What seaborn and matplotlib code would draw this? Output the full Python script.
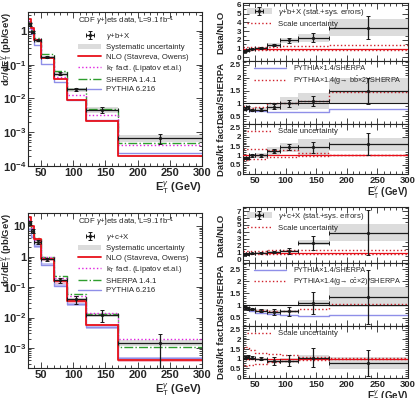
import math
import matplotlib
matplotlib.use("Agg")
import matplotlib.pyplot as plt
import seaborn as sns
from matplotlib.patches import Patch
from matplotlib.ticker import FixedLocator, FuncFormatter, MultipleLocator, LogLocator, NullFormatter

# bins in photon E_T (GeV)
edges = [30, 35, 40, 50, 70, 90, 120, 170, 300]

# ---- gamma + b + X cross sections (pb/GeV)
b_data = [1.55, 0.95, 0.52, 0.165, 0.054, 0.0185, 0.0046, 0.00066]
b_err = [0.12, 0.06, 0.03, 0.01, 0.005, 0.0016, 0.0008, 0.00022]
b_sys_lo = [1.35, 0.83, 0.45, 0.145, 0.047, 0.016, 0.0037, 0.00052]
b_sys_hi = [1.75, 1.07, 0.59, 0.185, 0.061, 0.021, 0.0055, 0.00082]
b_nlo = [2.2, 1.2, 0.52, 0.155, 0.038, 0.0088, 0.0021, 0.0002]
b_kt = [2.0, 1.1, 0.56, 0.17, 0.044, 0.013, 0.0033, 0.00042]
b_sherpa = [1.8, 1.05, 0.62, 0.21, 0.063, 0.0195, 0.0048, 0.00047]
b_pythia = [1.2, 0.8, 0.38, 0.105, 0.031, 0.009, 0.0023, 0.00024]

# ---- gamma + b ratios
rb_nlo = [0.72, 0.82, 1.0, 1.05, 1.42, 1.95, 2.25, 3.4]
rb_nlo_err = [0.08, 0.08, 0.08, 0.1, 0.15, 0.25, 0.5, 1.3]
rb_nlo_sys = [0.12, 0.1, 0.1, 0.12, 0.2, 0.3, 0.45, 1.0]
rb_scale_hi = [1.15, 1.15, 1.2, 1.2, 1.25, 1.3, 1.35, 1.4]
rb_scale_lo = [0.85, 0.85, 0.85, 0.85, 0.82, 0.8, 0.8, 0.8]

rb_sherpa = [0.8, 0.85, 0.75, 0.75, 0.88, 1.0, 1.1, 1.48]
rb_sherpa_err = [0.06, 0.06, 0.05, 0.06, 0.1, 0.12, 0.2, 0.5]
rb_sherpa_sys = [0.12, 0.1, 0.1, 0.1, 0.15, 0.25, 0.3, 0.5]
rb_pyt14 = [0.8, 0.8, 0.72, 0.7, 0.68, 0.65, 0.65, 0.78]
rb_pyt_g2 = [0.9, 0.88, 0.82, 0.85, 1.0, 1.0, 1.1, 1.45]

rb_kt = [0.85, 0.87, 1.0, 1.0, 1.25, 1.45, 1.45, 1.6]
rb_kt_err = [0.06, 0.06, 0.06, 0.08, 0.12, 0.15, 0.3, 0.6]
rb_kt_sys = [0.12, 0.1, 0.1, 0.12, 0.2, 0.25, 0.45, 0.35]
rb_kt_scale_hi = [1.35, 1.35, 1.35, 1.35, 1.3, 1.3, 1.15, 1.05]
rb_kt_scale_lo = [0.75, 0.75, 0.8, 0.8, 0.9, 0.9, 0.95, 1.0]

# ---- gamma + c + X cross sections (pb/GeV)
c_data = [13, 7.0, 3.0, 0.82, 0.17, 0.04, 0.012, 0.0015]
c_err = [2.0, 1.0, 0.5, 0.1, 0.03, 0.012, 0.005, 0.0013]
c_sys_lo = [11, 6.0, 2.6, 0.72, 0.15, 0.035, 0.0105, 0.0012]
c_sys_hi = [15, 8.0, 3.4, 0.92, 0.19, 0.045, 0.0145, 0.0018]
c_nlo = [20, 10, 3.8, 0.85, 0.16, 0.036, 0.0055, 0.0004]
c_nlo_lo = [17, 8.5, 3.2, 0.72, 0.13, 0.03, 0.0045, 0.00035]
c_kt = [16, 8.5, 3.6, 0.95, 0.2, 0.05, 0.014, 0.0019]
c_sherpa = [14, 8.0, 4.0, 1.0, 0.23, 0.06, 0.013, 0.0011]
c_pythia = [8, 4.5, 2.2, 0.55, 0.11, 0.027, 0.0048, 0.00046]
c_pyth_lo = [7, 4.0, 1.9, 0.5, 0.1, 0.024, 0.0043, 0.00042]
c_pyth_hi = [9, 5.0, 2.5, 0.62, 0.125, 0.03, 0.0053, 0.0005]

# ---- gamma + c ratios
rc_nlo = [0.8, 0.85, 0.9, 1.0, 1.05, 1.22, 2.42, 3.9]
rc_nlo_err = [0.1, 0.1, 0.1, 0.1, 0.15, 0.45, 1.05, 3.3]
rc_nlo_sys = [0.1, 0.1, 0.1, 0.1, 0.12, 0.15, 0.35, 1.2]
rc_scale_hi = [1.25, 1.25, 1.3, 1.3, 1.35, 1.4, 1.45, 1.45]
rc_scale_lo = [0.85, 0.85, 0.85, 0.85, 0.85, 0.85, 0.85, 0.85]

rc_sherpa = [0.92, 0.88, 0.85, 0.78, 0.72, 0.75, 1.1, 1.35]
rc_sherpa_err = [0.05, 0.05, 0.05, 0.06, 0.12, 0.2, 0.45, 1.1]
rc_sherpa_sys = [0.05, 0.05, 0.05, 0.06, 0.08, 0.08, 0.12, 0.4]
rc_pyt14 = [0.9, 0.85, 0.78, 0.7, 0.66, 0.62, 0.56, 0.6]
rc_pyt_g2 = [0.95, 0.9, 0.85, 0.8, 0.78, 0.75, 0.85, 1.05]

rc_kt = [1.05, 1.1, 1.05, 1.0, 0.9, 0.9, 1.05, 0.78]
rc_kt_err = [0.08, 0.08, 0.08, 0.08, 0.2, 0.28, 0.5, 0.68]
rc_kt_sys = [0.06, 0.06, 0.06, 0.06, 0.1, 0.12, 0.12, 0.3]
rc_kt_scale_hi = [1.55, 1.6, 1.45, 1.3, 1.25, 1.2, 1.1, 1.05]
rc_kt_scale_lo = [0.65, 0.6, 0.7, 0.75, 0.85, 0.9, 0.95, 1.0]

GREY = "#dcdcdc"
RED = "#e8101a"
SCALE = "#d0202a"
MAG = "#e020e0"
GREEN = "#2e9e2e"
LAV = "#8f8fe8"

centers = [(a + b) / 2 for a, b in zip(edges[:-1], edges[1:])]
halfw = [(b - a) / 2 for a, b in zip(edges[:-1], edges[1:])]

sns.set_theme(style="ticks")
plt.rcParams["font.family"] = ["Liberation Sans", "DejaVu Sans"]
plt.rcParams.update({
    "mathtext.fontset": "custom",
    "mathtext.rm": "Liberation Sans",
    "mathtext.it": "Liberation Sans:italic",
    "mathtext.bf": "Liberation Sans:bold",
    "mathtext.sf": "Liberation Sans",
    "axes.linewidth": 0.8,
})

fig = plt.figure(figsize=(4.16, 3.98), dpi=100)


def steps(ax, vals, **kw):
    y = list(vals) + [vals[-1]]
    sns.lineplot(x=edges, y=y, drawstyle="steps-post", ax=ax, errorbar=None, **kw)
    return ax.lines[-1]


def band(ax, lo, hi, color, z=1):
    ax.stairs(hi, edges, baseline=lo, fill=True, color=color, lw=0, zorder=z)


def data(ax, vals, err, lo, hi, cap=1.2):
    band(ax, lo, hi, GREY)
    return ax.errorbar(centers, vals, yerr=err, xerr=halfw, fmt="o", ms=1.3,
                       color="k", lw=0.9, capsize=cap, capthick=0.7, zorder=6)


def style(ax, xlabels=True, fs=7.5):
    ax.set_xlim(30, 300)
    ax.tick_params(which="both", direction="in", top=True, right=True,
                   width=0.6, pad=1.5, labelsize=fs)
    ax.tick_params(which="major", length=4)
    ax.tick_params(which="minor", length=2)
    ax.xaxis.set_major_locator(FixedLocator([50, 100, 150, 200, 250, 300]))
    ax.xaxis.set_minor_locator(MultipleLocator(10))
    for lab in ax.get_xticklabels() + ax.get_yticklabels():
        lab.set_fontweight("bold")
    if not xlabels:
        ax.set_xticklabels([])
    ax.grid(False)


def logfmt(v, pos):
    if abs(v - 1) < 1e-9:
        return "1"
    if abs(v - 10) < 1e-9:
        return "10"
    return r"$\mathbf{10^{%d}}$" % round(math.log10(v))


def main_panel(ax, d, e, lo, hi, nlo, kt, sh, py, ylim, ticks, name, extra=None):
    ax.set_yscale("log")
    if extra is not None:
        band(ax, extra[0], extra[1], "#f4b6c8", 2)
        band(ax, extra[2], extra[3], "#c8c8f4", 2)
    h_sys = Patch(facecolor=GREY, edgecolor="none")
    eb = data(ax, d, e, lo, hi)
    h_py = steps(ax, py, color=LAV, lw=1.0)
    h_sh = steps(ax, sh, color=GREEN, lw=1.0, linestyle="-.")
    h_kt = steps(ax, kt, color=MAG, lw=1.0, linestyle=":")
    h_nlo = steps(ax, nlo, color=RED, lw=1.3)
    ax.set_ylim(*ylim)
    style(ax, fs=8)
    ax.yaxis.set_major_locator(FixedLocator(ticks))
    ax.yaxis.set_major_formatter(FuncFormatter(logfmt))
    ax.yaxis.set_minor_locator(LogLocator(base=10, subs=range(2, 10), numticks=20))
    ax.yaxis.set_minor_formatter(NullFormatter())
    for lab in ax.get_yticklabels():
        lab.set_fontweight("bold")
    ax.set_ylabel(r"d$\sigma$/dE$_\mathrm{T}^{\gamma}$ (pb/GeV)", loc="top",
                  fontsize=6.8, fontweight="bold")
    ax.yaxis.set_label_coords(-0.072, 1.0)
    ax.set_xlabel(r"E$_\mathrm{T}^{\gamma}$ (GeV)", loc="right", fontsize=8,
                  fontweight="bold", labelpad=1)
    ax.legend([eb, h_sys, h_nlo, h_kt, h_sh, h_py],
              [name, "Systematic uncertainty", "NLO (Stavreva, Owens)",
               r"k$_\mathrm{T}$ fact. (Lipatov et.al.)", "SHERPA 1.4.1", "PYTHIA 6.216"],
              title=r"CDF $\gamma$+jets data, L=9.1 fb$^{-1}$",
              loc="upper left", bbox_to_anchor=(0.27, 1.0), frameon=False,
              fontsize=5.6, title_fontsize=5.6, handlelength=3.0,
              handletextpad=0.6, labelspacing=0.28, borderaxespad=0.2,
              borderpad=0.2, alignment="left")


def ratio_axes(ax, ylim, major, minor, ylabel, xlabels):
    ax.set_ylim(*ylim)
    ax.yaxis.set_major_locator(MultipleLocator(major))
    ax.yaxis.set_minor_locator(MultipleLocator(minor))
    ax.yaxis.set_major_formatter(FuncFormatter(lambda v, p: "%g" % v))
    style(ax, xlabels=xlabels, fs=6.8)
    for lab in ax.get_yticklabels():
        lab.set_fontsize(5.8)
    ax.set_ylabel(ylabel, fontsize=6.8, fontweight="bold")
    ax.yaxis.set_label_coords(-0.105, 0.5)


def ratio_top(ax, r, e, s, shi, slo, name, ylim):
    lo = [a - b for a, b in zip(r, s)]
    hi = [a + b for a, b in zip(r, s)]
    ax.axhline(1, color=RED, lw=0.9, zorder=3)
    eb = data(ax, r, e, lo, hi)
    h_sc = steps(ax, shi, color=SCALE, lw=1.0, linestyle=":")
    steps(ax, slo, color=SCALE, lw=1.0, linestyle=":")
    ratio_axes(ax, ylim, 1, 0.5, "Data/NLO", False)
    ax.legend([(Patch(facecolor=GREY, edgecolor="none"), eb), h_sc],
              [name + " (stat.+sys. errors)", "Scale uncertainty"],
              loc="upper left", bbox_to_anchor=(0.0, 1.0), frameon=False,
              fontsize=5.6, handlelength=3.2, handletextpad=0.8,
              labelspacing=0.35, borderaxespad=0.25, borderpad=0.25)


def ratio_mid(ax, r, e, s, p14, pg2, glab, ylim):
    lo = [a - b for a, b in zip(r, s)]
    hi = [a + b for a, b in zip(r, s)]
    ax.axhline(1, color="k", lw=0.8, zorder=3)
    data(ax, r, e, lo, hi)
    h1 = steps(ax, p14, color=LAV, lw=1.0)
    h2 = steps(ax, pg2, color=SCALE, lw=1.0, linestyle=":")
    ratio_axes(ax, ylim, 0.5, 0.1, "Data/SHERPA", False)
    ax.legend([h1, h2], [u"PYTHIA\u00d71.4/SHERPA", glab],
              loc="upper left", bbox_to_anchor=(0.04, 1.0), frameon=False,
              fontsize=5.2, handlelength=4.5, handletextpad=0.9,
              labelspacing=0.3, borderaxespad=0.3, borderpad=0.3)


def ratio_bot(ax, r, e, s, shi, slo, ylim):
    lo = [a - b for a, b in zip(r, s)]
    hi = [a + b for a, b in zip(r, s)]
    ax.axhline(1, color=RED, lw=0.9, zorder=3)
    data(ax, r, e, lo, hi)
    h_sc = steps(ax, shi, color=SCALE, lw=1.0, linestyle=":")
    steps(ax, slo, color=SCALE, lw=1.0, linestyle=":")
    ratio_axes(ax, ylim, 0.5, 0.1, "Data/kt fact.", True)
    ax.set_xlabel(r"E$_\mathrm{T}^{\gamma}$ (GeV)", loc="right", fontsize=7,
                  fontweight="bold")
    h_ax = ax.get_position().height * fig.get_figheight() * fig.dpi
    ax.xaxis.set_label_coords(1.0, -11.0 / h_ax)
    ax.legend([h_sc], ["Scale uncertainty"], loc="upper left",
              bbox_to_anchor=(0.0, 1.0), frameon=False, fontsize=5.6,
              handlelength=3.2, handletextpad=0.8, borderaxespad=0.25, borderpad=0.25)


W, H = 416.0, 398.0


def box(x0, y0, x1, y1):
    return [x0 / W, 1 - y1 / H, (x1 - x0) / W, (y1 - y0) / H]


# upper half: gamma + b
ax = fig.add_axes(box(28, 12, 202, 166))
main_panel(ax, b_data, b_err, b_sys_lo, b_sys_hi, b_nlo, b_kt, b_sherpa, b_pythia,
           (1e-4, 3.6), [1e-4, 1e-3, 1e-2, 1e-1, 1], r"$\gamma$+b+X")

ax = fig.add_axes(box(243, 3, 408, 61))
ratio_top(ax, rb_nlo, rb_nlo_err, rb_nlo_sys, rb_scale_hi, rb_scale_lo,
          r"$\gamma$+b+X", (-0.4, 6.2))
ax = fig.add_axes(box(243, 61, 408, 124))
ratio_mid(ax, rb_sherpa, rb_sherpa_err, rb_sherpa_sys, rb_pyt14, rb_pyt_g2,
          u"PYTHIA\u00d71.4(g\u2192 b$\\bar{\\mathrm{b}}$\u00d72)/SHERPA", (0.2, 2.65))
ax = fig.add_axes(box(243, 124, 408, 174))
ratio_bot(ax, rb_kt, rb_kt_err, rb_kt_sys, rb_kt_scale_hi, rb_kt_scale_lo, (0, 2.7))

# lower half: gamma + c
ax = fig.add_axes(box(28, 213, 202, 368))
main_panel(ax, c_data, c_err, c_sys_lo, c_sys_hi, c_nlo, c_kt, c_sherpa, c_pythia,
           (2.2e-4, 27), [1e-3, 1e-2, 1e-1, 1, 10], r"$\gamma$+c+X",
           extra=(c_nlo_lo, c_nlo, c_pyth_lo, c_pyth_hi))

ax = fig.add_axes(box(243, 207, 408, 263))
ratio_top(ax, rc_nlo, rc_nlo_err, rc_nlo_sys, rc_scale_hi, rc_scale_lo,
          r"$\gamma$+c+X", (-0.5, 7.6))
ax = fig.add_axes(box(243, 263, 408, 326))
ratio_mid(ax, rc_sherpa, rc_sherpa_err, rc_sherpa_sys, rc_pyt14, rc_pyt_g2,
          u"PYTHIA\u00d71.4(g\u2192 c$\\bar{\\mathrm{c}}$\u00d72)/SHERPA", (0.15, 2.75))
ax = fig.add_axes(box(243, 326, 408, 378))
ratio_bot(ax, rc_kt, rc_kt_err, rc_kt_sys, rc_kt_scale_hi, rc_kt_scale_lo, (0, 2.7))

fig.savefig("out.png", dpi=100)
